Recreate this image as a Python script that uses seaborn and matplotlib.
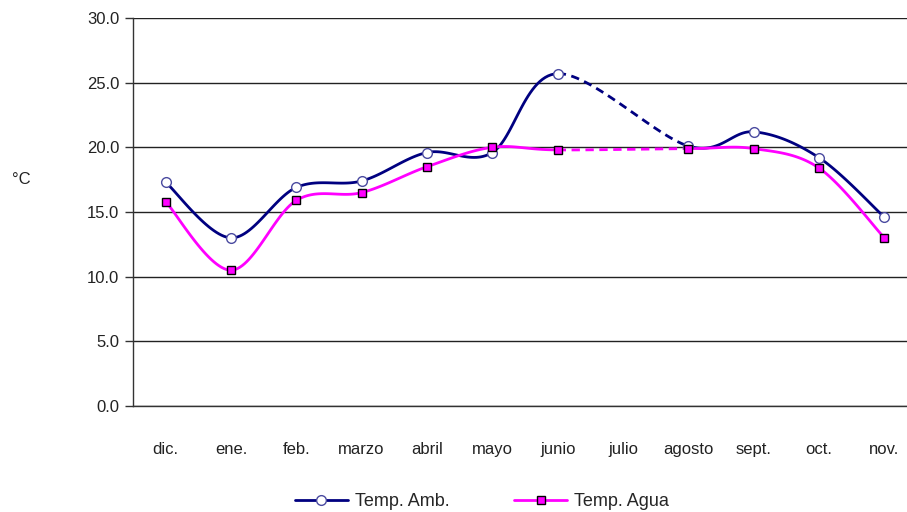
import numpy as np
import pandas as pd
import seaborn as sns
import matplotlib.pyplot as plt
from matplotlib.lines import Line2D

# --------------------------- DATA ---------------------------
months = ['dic.', 'ene.', 'feb.', 'marzo', 'abril', 'mayo', 'junio',
          'julio', 'agosto', 'sept.', 'oct.', 'nov.']
temp_amb = [17.3, 13.0, 16.9, 17.4, 19.6, 19.6, 25.7, np.nan, 20.1, 21.2, 19.2, 14.6]
temp_agua = [15.8, 10.5, 15.9, 16.5, 18.5, 20.0, 19.8, np.nan, 19.9, 19.9, 18.4, 13.0]
y_ticks = [0, 5, 10, 15, 20, 25, 30]

# --------------------------- SETTINGS ---------------------------
sns.set_style("white")
plt.rcParams['font.family'] = ['Liberation Sans', 'DejaVu Sans']


def smooth(xs, ys, n=30):
    # Excel-like smoothed line: cubic bezier with 1/6 neighbour tangents
    xs = np.asarray(xs, float)
    ys = np.asarray(ys, float)
    px = np.concatenate([[xs[0]], xs, [xs[-1]]])
    py = np.concatenate([[ys[0]], ys, [ys[-1]]])
    segs = []
    t = np.linspace(0, 1, n)
    for i in range(1, len(px) - 2):
        p0 = np.array([px[i], py[i]])
        p3 = np.array([px[i + 1], py[i + 1]])
        c1 = p0 + (np.array([px[i + 1], py[i + 1]]) - np.array([px[i - 1], py[i - 1]])) / 6
        c2 = p3 - (np.array([px[i + 2], py[i + 2]]) - np.array([px[i], py[i]])) / 6
        b = ((1 - t) ** 3)[:, None] * p0 + (3 * (1 - t) ** 2 * t)[:, None] * c1 \
            + (3 * (1 - t) * t ** 2)[:, None] * c2 + (t ** 3)[:, None] * p3
        segs.append((xs[i - 1], xs[i], b))
    return segs


fig = plt.figure(figsize=(9.07, 5.12), dpi=100)
ax = fig.add_axes([133 / 907, (512 - 406) / 512, 784 / 907, 388 / 512])

x_pos = np.arange(len(months))
series = [
    ('Temp. Amb.', temp_amb, '#000080', 'o', 'white', '#4a4aa0'),
    ('Temp. Agua', temp_agua, '#FF00FF', 's', '#FF00FF', 'black'),
]

for label, vals, color, mk, mfc, mec in series:
    vals = np.asarray(vals, float)
    ok = ~np.isnan(vals)
    for x0, x1, b in smooth(x_pos[ok], vals[ok]):
        dashed = (x1 - x0) > 1
        seg = pd.DataFrame({'x': b[:, 0], 'y': b[:, 1]})
        sns.lineplot(data=seg, x='x', y='y', ax=ax, color=color, lw=2,
                     linestyle=(0, (3, 2)) if dashed else '-', sort=False,
                     estimator=None, zorder=3)
    ax.plot(x_pos[ok], vals[ok], linestyle='none', marker=mk, markersize=7 if mk == 'o' else 6,
            markerfacecolor=mfc, markeredgecolor=mec, markeredgewidth=1, zorder=4)

ax.set_xlim(-0.5, len(months) - 0.5)
ax.set_ylim(0, 30)
ax.set_yticks(y_ticks)
ax.set_yticklabels([f'{v:.1f}' for v in y_ticks], fontsize=12, color='#222222')
ax.set_xticks(x_pos)
ax.set_xticklabels(months, fontsize=12, color='#222222')
ax.set_xticks(np.arange(-0.5, len(months), 1), minor=True)
ax.tick_params(axis='x', which='major', length=0, pad=26)
ax.tick_params(axis='x', which='minor', length=6, width=1, color='#333333', direction='out')
ax.tick_params(axis='y', length=6, width=1, color='#333333', direction='out', left=True, pad=4)
ax.grid(axis='y', color='#222222', lw=1, zorder=1)
ax.set_axisbelow(True)
for s in ['top', 'right']:
    ax.spines[s].set_visible(False)
for s in ['left', 'bottom']:
    ax.spines[s].set_color('#333333')
    ax.spines[s].set_linewidth(1)
ax.set_xlabel('')
ax.set_ylabel('°C', rotation=0, fontsize=12, color='#222222')
ax.yaxis.set_label_coords(-0.142, 0.565)

handles = [
    Line2D([], [], color='#000080', lw=2, marker='o', markersize=7,
           markerfacecolor='white', markeredgecolor='#4a4aa0'),
    Line2D([], [], color='#FF00FF', lw=2, marker='s', markersize=6,
           markerfacecolor='#FF00FF', markeredgecolor='black'),
]
fig.legend(handles, ['Temp. Amb.', 'Temp. Agua'], loc='center', bbox_to_anchor=(482 / 907, 10 / 512),
           ncol=2, frameon=False, fontsize=13, handlelength=2.9, columnspacing=3.6, handletextpad=0.4)

fig.savefig('out.png', dpi=100)
